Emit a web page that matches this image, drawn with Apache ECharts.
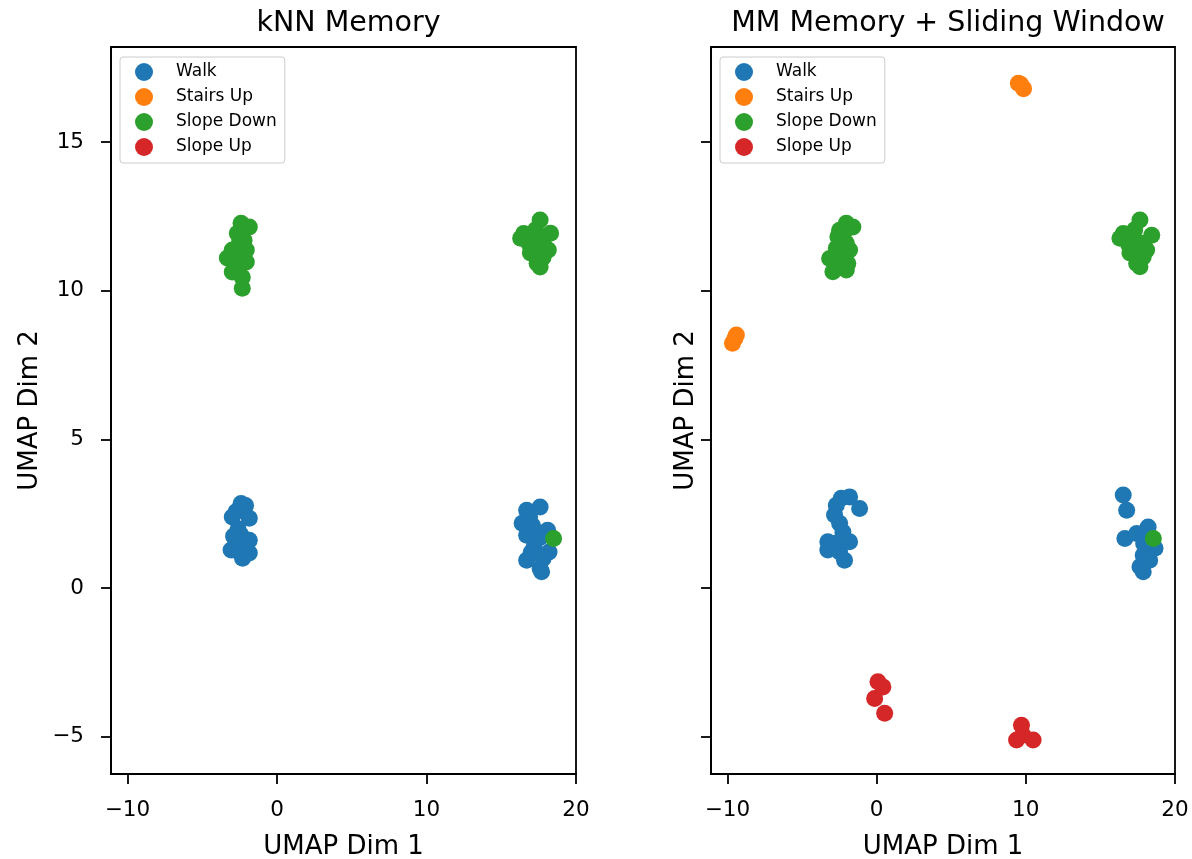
<!DOCTYPE html>
<html>
<head>
<meta charset="utf-8">
<title>UMAP memory comparison</title>
<script src="https://cdn.jsdelivr.net/npm/echarts@6/dist/echarts.min.js"></script>
<style>
  html, body { margin: 0; padding: 0; background: #fff; }
  #chart { width: 1192px; height: 859px; }
</style>
</head>
<body>
<div id="chart"></div>
<script>
// classes and tick labels
const classNames = ['Walk', 'Stairs Up', 'Slope Down', 'Slope Up'];
const classColors = ['#1f77b4', '#ff7f0e', '#2ca02c', '#d62728'];
const xTicks = [-10, 0, 10, 20];
const yTicks = [-5, 0, 5, 10, 15];

// kNN Memory (left panel), [dim1, dim2]
const knnWalk = [
  [-2.4, 2.85], [-2.74, 2.57], [-1.85, 2.35], [-2.99, 2.39], [-2.1, 2.78],
  [-2.4, 1.78], [-3.07, 1.28], [-1.85, 1.61], [-2.3, 1.01], [-1.85, 1.18],
  [-2.74, 1.39], [-2.6, 2.0], [-2.2, 1.45], [-2.9, 1.75], [-2.5, 1.2],
  [17.6, 2.73], [16.7, 2.62], [16.4, 2.18], [18.1, 1.95], [16.7, 1.78],
  [17.2, 1.39], [18.2, 1.22], [16.7, 0.94], [17.6, 0.66], [17.7, 0.55],
  [17.1, 2.1], [17.6, 1.7], [17.0, 1.2], [17.8, 1.0], [16.9, 2.4]
];
const knnStairsUp = [];
const knnSlopeDown = [
  [-2.4, 12.27], [-1.85, 12.15], [-2.65, 11.94], [-2.99, 11.37], [-2.05, 11.37],
  [-3.32, 11.1], [-2.05, 10.97], [-2.99, 10.63], [-2.32, 10.46], [-2.32, 10.09],
  [-2.5, 11.64], [-2.65, 10.86], [-2.2, 11.7], [-2.8, 11.2], [-2.5, 11.05],
  [17.6, 12.38], [16.5, 11.93], [18.3, 11.94], [16.3, 11.77], [17.15, 11.7],
  [18.15, 11.37], [16.95, 11.27], [17.4, 10.93], [17.6, 10.8], [17.8, 11.13],
  [17.3, 12.05], [17.8, 11.6], [16.9, 11.55], [17.5, 11.4],
  [18.5, 1.67]
];
const knnSlopeUp = [];

// MM Memory + Sliding Window (right panel)
const mmWalk = [
  [-2.37, 3.02], [-1.81, 3.07], [-1.14, 2.68], [-2.7, 2.79], [-2.82, 2.46],
  [-2.48, 2.18], [-2.26, 1.89], [-3.27, 1.56], [-1.81, 1.56], [-3.27, 1.28],
  [-2.6, 1.39], [-2.15, 0.94], [-2.48, 1.22], [-2.4, 1.6], [-2.9, 1.5],
  [16.53, 3.13], [16.76, 2.62], [16.64, 1.67], [17.43, 1.84], [18.2, 2.06],
  [18.66, 1.34], [17.87, 1.11], [17.65, 0.72], [17.87, 0.55], [18.3, 0.94],
  [17.9, 1.5], [18.1, 1.75]
];
const mmStairsUp = [
  [9.5, 16.98], [9.85, 16.8], [9.65, 16.95],
  [-9.66, 8.24], [-9.4, 8.51], [-9.5, 8.4]
];
const mmSlopeDown = [
  [-2.03, 12.27], [-1.59, 12.15], [-2.48, 12.04], [-2.6, 11.82], [-2.03, 11.6],
  [-2.7, 11.43], [-1.81, 11.37], [-3.15, 11.09], [-1.93, 10.92], [-2.93, 10.64],
  [-2.03, 10.7], [-2.48, 10.81], [-2.3, 11.2], [-2.2, 11.95],
  [17.65, 12.38], [18.44, 11.87], [16.53, 11.93], [16.31, 11.77], [17.2, 11.76],
  [18.1, 11.37], [16.98, 11.27], [17.43, 10.92], [17.65, 10.81], [17.87, 11.14],
  [17.3, 12.05], [17.8, 11.6], [16.9, 11.55], [17.5, 11.4],
  [18.55, 1.67]
];
const mmSlopeUp = [
  [0.09, -3.15], [0.42, -3.32], [-0.13, -3.71], [0.54, -4.21],
  [9.71, -4.61], [9.38, -5.11], [10.49, -5.11], [9.8, -4.94]
];

const panels = [
  { title: 'kNN Memory', data: [knnWalk, knnStairsUp, knnSlopeDown, knnSlopeUp], left: 111, width: 465 },
  { title: 'MM Memory + Sliding Window', data: [mmWalk, mmStairsUp, mmSlopeDown, mmSlopeUp], left: 711, width: 464 }
];

const font = 'DejaVu Sans';
const fmt = v => (v < 0 ? '\u2212' + Math.abs(v) : String(v));

const chart = echarts.init(document.getElementById('chart'));

const option = {
  animation: false,
  backgroundColor: '#fff',
  textStyle: { fontFamily: font },
  title: panels.map(p => ({
    text: p.title,
    left: p.left + p.width / 2,
    top: 4,
    textAlign: 'center',
    textStyle: { fontFamily: font, fontSize: 28.5, fontWeight: 'normal', color: '#000' }
  })),
  legend: panels.map(p => ({
    data: classNames,
    orient: 'vertical',
    left: p.left + 9,
    top: 57,
    icon: 'circle',
    itemWidth: 18,
    itemHeight: 18,
    itemGap: 7,
    padding: [6, 8, 7, 15],
    borderColor: '#cccccc',
    borderWidth: 1,
    borderRadius: 3,
    backgroundColor: 'rgba(255,255,255,0.8)',
    selectedMode: false,
    textStyle: { fontFamily: font, fontSize: 17, lineHeight: 18, color: '#000', padding: [0, 0, 0, 18] }
  })),
  grid: panels.map(p => ({
    left: p.left,
    top: 47,
    width: p.width,
    height: 727,
    show: true,
    borderColor: '#000',
    borderWidth: 1.8,
    containLabel: false,
    outerBoundsMode: 'none'
  })),
  xAxis: panels.map((p, i) => ({
    type: 'value',
    gridIndex: i,
    min: -11.1,
    max: 20.0,
    name: 'UMAP Dim 1',
    nameLocation: 'middle',
    nameGap: 60,
    nameTextStyle: { fontFamily: font, fontSize: 26, color: '#000' },
    axisLine: { show: true, onZero: false, lineStyle: { color: '#000', width: 1.8 } },
    axisTick: { show: true, inside: false, length: 10, customValues: xTicks, lineStyle: { color: '#000', width: 1.8 } },
    axisLabel: { show: true, margin: 25, customValues: xTicks, formatter: fmt, fontFamily: font, fontSize: 21.5, color: '#000' },
    splitLine: { show: false }
  })),
  yAxis: panels.map((p, i) => ({
    type: 'value',
    gridIndex: i,
    min: -6.25,
    max: 18.2,
    name: 'UMAP Dim 2',
    nameLocation: 'middle',
    nameGap: i === 0 ? 68 : 12,
    nameRotate: 90,
    nameTextStyle: { fontFamily: font, fontSize: 26, color: '#000' },
    axisLine: { show: true, onZero: false, lineStyle: { color: '#000', width: 1.8 } },
    axisTick: { show: true, inside: false, length: 10, customValues: yTicks, lineStyle: { color: '#000', width: 1.8 } },
    axisLabel: { show: i === 0, margin: 27, customValues: yTicks, formatter: fmt, fontFamily: font, fontSize: 21.5, color: '#000' },
    splitLine: { show: false }
  })),
  series: []
};

panels.forEach((p, i) => {
  p.data.forEach((d, k) => {
    option.series.push({
      type: 'scatter',
      name: classNames[k],
      xAxisIndex: i,
      yAxisIndex: i,
      data: d,
      symbol: 'circle',
      symbolSize: 17,
      itemStyle: { color: classColors[k], opacity: 1 },
      emphasis: { disabled: true }
    });
  });
});

chart.setOption(option);
window.addEventListener('resize', () => chart.resize());
</script>
</body>
</html>
